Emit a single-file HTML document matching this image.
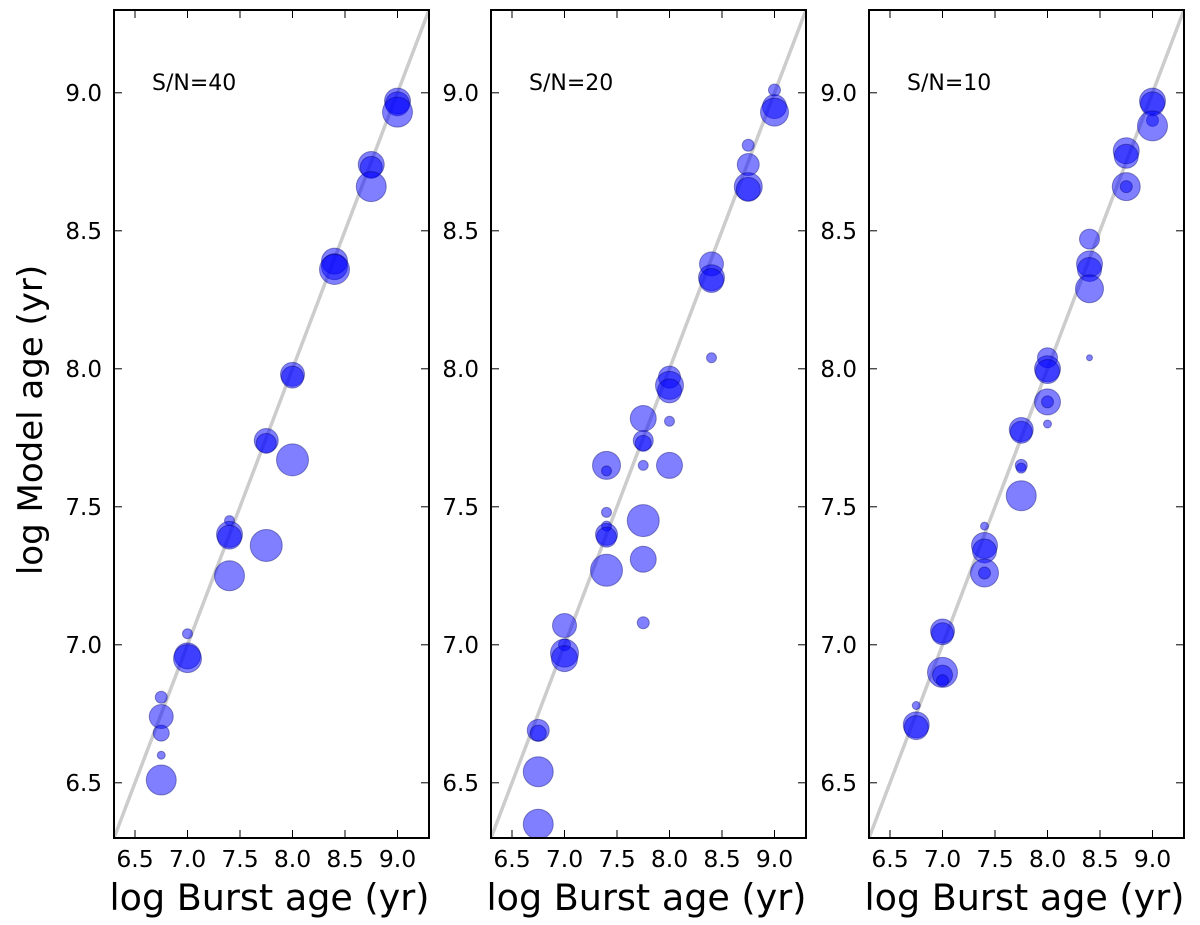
<!DOCTYPE html>
<html><head><meta charset="utf-8"><style>body{margin:0;background:#fff}svg{display:block}text{font-family:"DejaVu Sans","Liberation Sans",sans-serif}</style></head>
<body>
<svg id="c" width="1200" height="925"></svg>
<script>
const panelLabels=["S/N=40","S/N=20","S/N=10"];
const tickVals=[6.5,7.0,7.5,8.0,8.5,9.0];
const tickLabels=["6.5","7.0","7.5","8.0","8.5","9.0"];
const p1x=[6.75,6.75,6.75,6.75,6.75,7,7,7,7.4,7.4,7.4,7.4,7.75,7.75,7.75,8,8,8,8.4,8.4,8.4,8.75,8.75,8.75,9,9,9];
const p1y=[6.74,6.68,6.81,6.60,6.51,7.04,6.96,6.95,7.45,7.40,7.39,7.25,7.74,7.73,7.36,7.98,7.97,7.67,8.39,8.37,8.36,8.74,8.73,8.66,8.97,8.96,8.93];
const p1r=[12,8,6,4,15,5,13,14,5,13,12,15,12,10,16,12,11,16,13,13,15,13,11,15,13,12,15];
const p2x=[6.75,6.75,6.75,6.75,7,7,7,7,7.4,7.4,7.4,7.4,7.4,7.4,7.4,7.75,7.75,7.75,7.75,7.75,7.75,7.75,8,8,8,8,8,8.4,8.4,8.4,8.4,8.75,8.75,8.75,8.75,9,9,9];
const p2y=[6.69,6.68,6.54,6.35,7.07,7.0,6.97,6.95,7.65,7.63,7.48,7.43,7.40,7.39,7.27,7.82,7.74,7.73,7.65,7.45,7.31,7.08,7.97,7.94,7.92,7.81,7.65,8.38,8.33,8.32,8.04,8.81,8.74,8.66,8.65,9.01,8.95,8.93];
const p2r=[11,8,15,15,12,6,14,13,14,5,5,5,11,10,16,13,10,8,5,16,13,6,11,14,12,5,13,12,13,12,5,6,11,14,12,6,12,14];
const p3x=[6.75,6.75,6.75,7,7,7,7,7,7.4,7.4,7.4,7.4,7.4,7.75,7.75,7.75,7.75,7.75,8,8,8,8,8,8,8.4,8.4,8.4,8.4,8.4,8.75,8.75,8.75,8.75,9,9,9,9];
const p3y=[6.78,6.71,6.70,7.05,7.04,6.90,6.89,6.87,7.43,7.36,7.34,7.26,7.26,7.78,7.77,7.65,7.64,7.54,8.04,8.00,7.99,7.88,7.88,7.80,8.47,8.38,8.36,8.29,8.04,8.79,8.77,8.66,8.66,8.97,8.96,8.90,8.88];
const p3r=[4,13,12,12,11,15,10,6,4,13,12,14,6,12,11,6,5,15,10,13,12,13,6,4,10,13,12,14,3,13,12,14,6,13,12,6,15];
const X=[p1x,p2x,p3x],Y=[p1y,p2y,p3y],R=[p1r,p2r,p3r];
const NS="http://www.w3.org/2000/svg",svg=document.getElementById('c');
function mk(t,a,p){const e=document.createElementNS(NS,t);for(const k in a)e.setAttribute(k,a[k]);(p||svg).appendChild(e);return e;}
const lefts=[114,491,869],W=315,top0=10,bot=838,lo=6.3,hi=9.3;
lefts.forEach((L,i)=>{
 const sx=v=>L+(v-lo)/(hi-lo)*W, sy=v=>bot-(v-lo)/(hi-lo)*(bot-top0);
 const g=mk('g',{});
 
 
 const cp=mk('clipPath',{id:'cp'+i},g);mk('rect',{x:L,y:top0,width:W,height:bot-top0},cp);
 const ln=mk('line',{x1:sx(lo),y1:sy(lo),x2:sx(hi),y2:sy(hi),stroke:'#cccccc','stroke-width':3.5,'clip-path':'url(#cp'+i+')'},g);
 
 
 X[i].forEach((x,j)=>{
  const c=mk('circle',{cx:sx(x),cy:sy(Y[i][j]),r:R[i][j],fill:'rgba(0,0,255,0.5)',stroke:'rgba(0,0,100,0.4)','stroke-width':1,'clip-path':'url(#cp'+i+')'},g);
  
  
 });
 const fr=mk('rect',{x:L,y:top0,width:W,height:bot-top0,fill:'none',stroke:'#000','stroke-width':2},g);
 
 
 tickVals.forEach((v,k)=>{
  mk('line',{x1:sx(v),x2:sx(v),y1:bot,y2:bot-8,stroke:'#000'},g);
  mk('line',{x1:sx(v),x2:sx(v),y1:top0,y2:top0+8,stroke:'#000'},g);
  mk('line',{x1:L,x2:L+8,y1:sy(v),y2:sy(v),stroke:'#000'},g);
  mk('line',{x1:L+W,x2:L+W-8,y1:sy(v),y2:sy(v),stroke:'#000'},g);
  const tx=mk('text',{x:sx(v),y:bot+29,'text-anchor':'middle','font-size':23.5},g);tx.textContent=tickLabels[k];
  
  
  const ty=mk('text',{x:L-12,y:sy(v)+8,'text-anchor':'end','font-size':23},g);ty.textContent=tickLabels[k];
  
  
 });
 const pl=mk('text',{x:L+38,y:90,'font-size':22},g);pl.textContent=panelLabels[i];
 
 
 const xt=mk('text',{x:L+W/2-2,y:910,'text-anchor':'middle','font-size':36.5},g);xt.textContent='log Burst age (yr)';
 
 
});
const yt=mk('text',{x:0,y:0,'text-anchor':'middle','font-size':34,transform:'translate(42,420) rotate(-90)'});
yt.textContent='log Model age (yr)';


</script>
</body></html>
